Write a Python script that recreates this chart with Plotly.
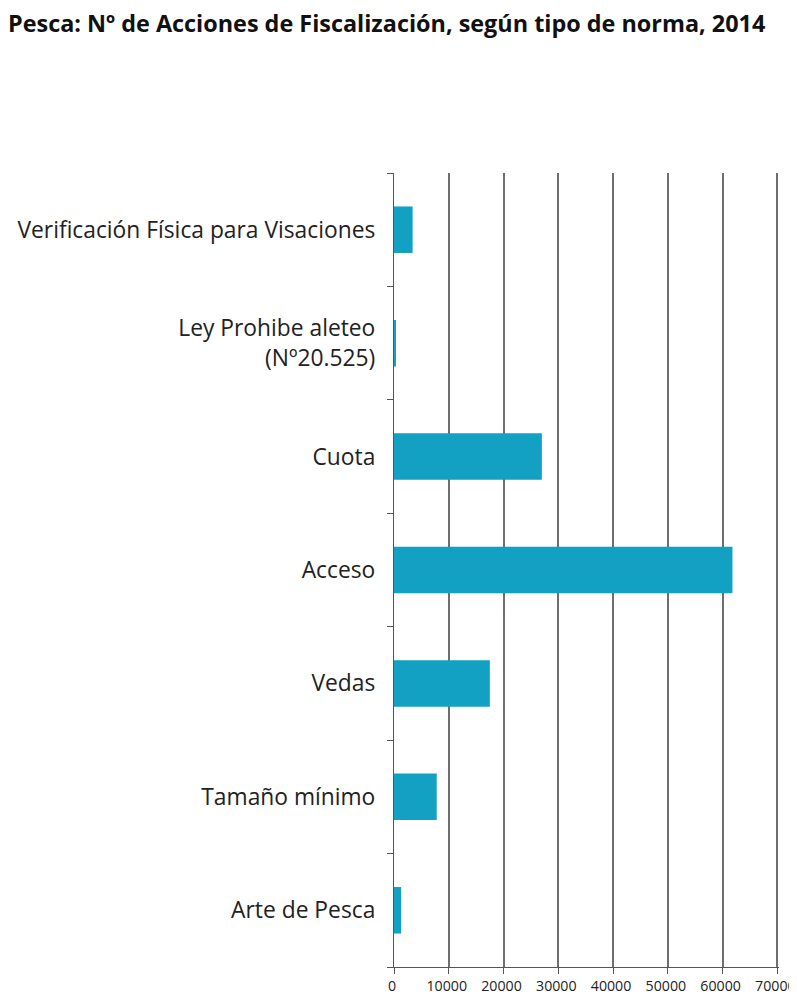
import plotly.graph_objects as go

categories = [
    "Arte de Pesca",
    "Tamaño mínimo",
    "Vedas",
    "Acceso",
    "Cuota",
    "Ley Prohibe aleteo<br>(Nº20.525)",
    "Verificación Física para Visaciones",
]
values = [1300, 7800, 17500, 61800, 27000, 200, 3400]
x_ticks = [0, 10000, 20000, 30000, 40000, 50000, 60000, 70000]

fig = go.Figure(
    go.Bar(
        y=categories,
        x=values,
        orientation="h",
        marker=dict(color="#13a1c3", line=dict(width=0)),
    )
)

fig.update_layout(
    width=789,
    height=998,
    margin=dict(l=386, r=18, t=165, b=39),
    paper_bgcolor="white",
    plot_bgcolor="white",
    bargap=0.59,
    showlegend=False,
    font=dict(family="Open Sans, Calibri, sans-serif", color="#222"),
    title=dict(
        text="<b>Pesca: Nº de Acciones de Fiscalización, según tipo de norma, 2014</b>",
        x=0.0,
        xanchor="left",
        y=0.984,
        yanchor="middle",
        font=dict(size=23.4, color="#111"),
    ),
)

fig.update_xaxes(
    range=[0, 70300],
    tickvals=x_ticks,
    ticktext=[str(v) for v in x_ticks],
    showgrid=True,
    gridcolor="#6e6e6e",
    gridwidth=1.5,
    showline=True,
    linecolor="#555",
    linewidth=1.2,
    ticks="outside",
    ticklen=6,
    tickcolor="#555",
    tickfont=dict(size=14.2, color="#222"),
    ticklabeloverflow="allow",
    ticklabelshift=-2,
    zeroline=False,
    automargin=False,
    fixedrange=True,
)

fig.update_yaxes(
    showline=True,
    linecolor="#555",
    linewidth=1.2,
    ticks="outside",
    tickson="boundaries",
    ticklen=6,
    tickcolor="#555",
    tickfont=dict(size=22.8, color="#222"),
    showgrid=False,
    ticklabelstandoff=13,
    automargin=False,
)

fig.write_html("out.html")
